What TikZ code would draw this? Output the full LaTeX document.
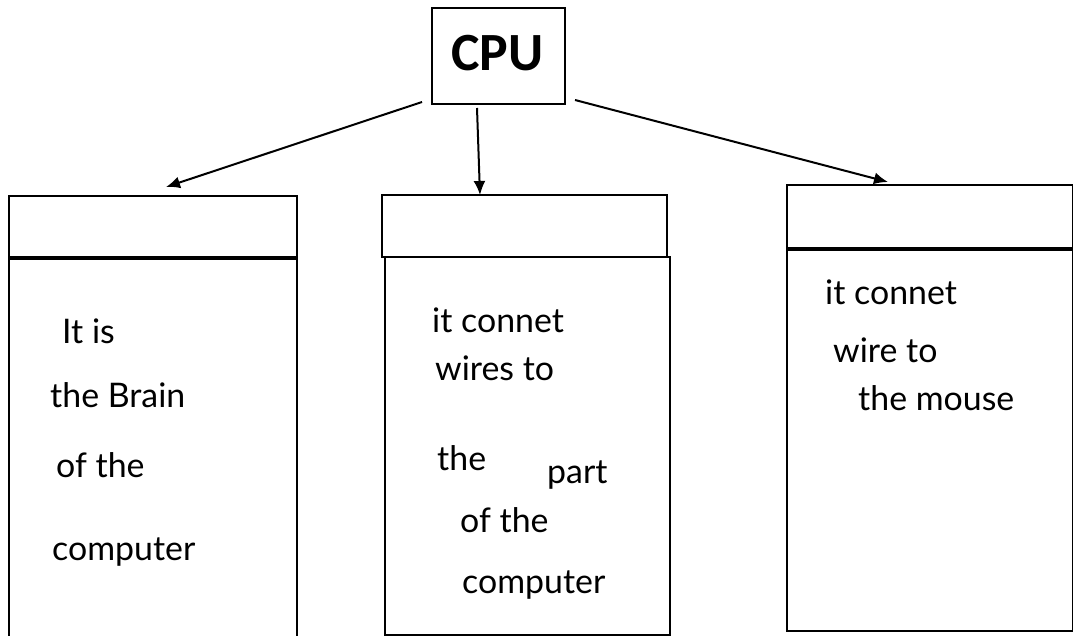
\documentclass[tikz,border=0pt]{standalone}
\usepackage{fontspec}
\setmainfont{Lato}
\newfontfamily\cpufont{Carlito}
\usetikzlibrary{arrows.meta}
\begin{document}
\begin{tikzpicture}[x=1bp,y=-1bp,
  box/.style={draw, line width=2bp, inner sep=0pt, anchor=north west},
  hand/.style={anchor=base west, inner sep=0pt, font=\fontsize{34}{34}\selectfont},
  arr/.style={line width=2bp, -{Latex[length=14bp,width=12bp]}}]
\useasboundingbox (0,0) rectangle (1073,636);
\fill[white] (0,0) rectangle (1073,636);
% CPU
\node[box, minimum width=133bp, minimum height=96bp] (cpu) at (431,7) {};
\node[font=\cpufont\bfseries\fontsize{54}{54}\selectfont, inner sep=0pt] (cputxt) at (497.5,53) {CPU};
% left box
\node[box, minimum width=288bp, minimum height=63bp] (h1) at (8,195) {};
\node[box, minimum width=288bp, minimum height=390bp] (b1) at (8,258) {};
\draw[line width=3bp] (b1.north west) -- (b1.north east);
% middle box
\node[box, minimum width=285bp, minimum height=62bp] (h2) at (381,194) {};
\node[box, minimum width=285bp, minimum height=378bp] (b2) at (384,256) {};
% right box
\node[box, minimum width=286bp, minimum height=65bp] (h3) at (786,184) {};
\node[box, minimum width=286bp, minimum height=381bp] (b3) at (786,249) {};
\draw[line width=3.2bp] (b3.north west) -- (b3.north east);
% arrows
\coordinate (s1) at (422,102);
\coordinate (e1) at (166,187);
\coordinate (s2) at (477,108);
\coordinate (e2) at (480,195);
\coordinate (s3) at (575,100);
\coordinate (e3) at (888,182);
\draw[arr] (s1) -- (e1);
\draw[arr] (s2) -- (e2);
\draw[arr] (s3) -- (e3);
% left texts
\node[hand] (t11) at (62,343) {It is};
\node[hand] (t12) at (50,407) {the Brain};
\node[hand] (t13) at (56,477) {of the};
\node[hand] (t14) at (52,560) {computer};
% middle texts
\node[hand] (t21) at (432,332) {it connet};
\node[hand] (t22) at (435,380) {wires to};
\node[hand] (t23) at (437,470) {the};
\node[hand] (t24) at (547,483) {part};
\node[hand] (t25) at (460,532) {of the};
\node[hand] (t26) at (462,593) {computer};
% right texts
\node[hand] (t31) at (825,305) {it connet};
\node[hand] (t32) at (833,362) {wire to};
\node[hand] (t33) at (858,410) {the mouse};
\end{tikzpicture}
\end{document}
